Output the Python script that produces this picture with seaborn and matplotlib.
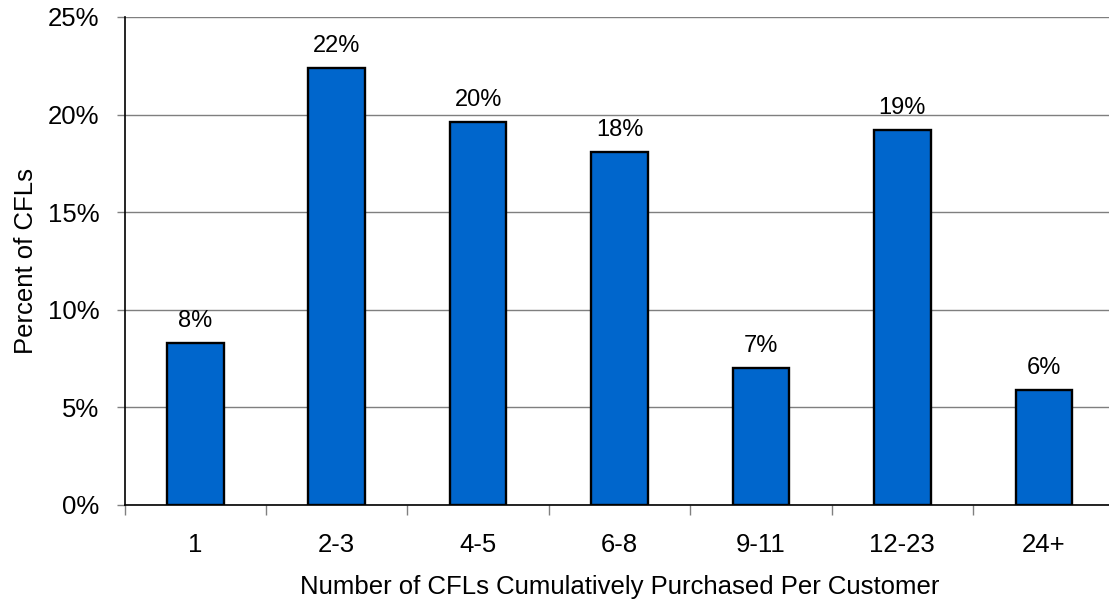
import matplotlib
matplotlib.use("Agg")
import matplotlib.pyplot as plt
import seaborn as sns
import pandas as pd
from matplotlib.ticker import FuncFormatter, FixedLocator

# Share of CFLs by how many bulbs each customer bought in total
categories = ["1", "2-3", "4-5", "6-8", "9-11", "12-23", "24+"]
percent_cfls = [8.3, 22.4, 19.6, 18.1, 7.0, 19.2, 5.9]

df = pd.DataFrame({"bucket": categories, "pct": percent_cfls})

sns.set_theme(style="white")
plt.rcParams["font.family"] = ["Liberation Sans", "DejaVu Sans"]

W, H = 1109, 604
fig = plt.figure(figsize=(W / 100, H / 100), dpi=100)
# plot area runs slightly past the right edge of the canvas
ax = fig.add_axes([124.5 / W, 1 - 505 / H, 990 / W, (505 - 17) / H])

sns.barplot(data=df, x="bucket", y="pct", order=categories, color="#0066CC",
            edgecolor="black", linewidth=1.7, width=0.40, saturation=1, ax=ax)

ax.set_xlim(-0.5, len(categories) - 0.5)
ax.set_ylim(0, 25)
ax.set_yticks([0, 5, 10, 15, 20, 25])
ax.yaxis.set_major_formatter(FuncFormatter(lambda v, _: f"{v:.0f}%"))
ax.yaxis.grid(True, color="#7f7f7f", linewidth=1.0)
ax.set_axisbelow(True)

for side in ("top", "right"):
    ax.spines[side].set_visible(False)
for side in ("left", "bottom"):
    ax.spines[side].set_color("black")
    ax.spines[side].set_linewidth(1.2)

# category boundaries marked with small ticks below the axis
ax.xaxis.set_minor_locator(FixedLocator([i - 0.5 for i in range(len(categories) + 1)]))
ax.tick_params(axis="x", which="major", length=0, pad=20, labelsize=18.5, colors="black")
ax.tick_params(axis="x", which="minor", bottom=True, length=7, width=1, color="#808080")
ax.tick_params(axis="y", which="major", left=True, length=6, width=1, color="#808080",
               pad=12, labelsize=18.5, labelcolor="black")

ax.set_xlabel("Number of CFLs Cumulatively Purchased Per Customer", fontsize=18.5,
              labelpad=13, color="black")
ax.set_ylabel("Percent of CFLs", fontsize=18.5, labelpad=7, color="black")

ax.bar_label(ax.containers[0], labels=[f"{v:.0f}%" for v in percent_cfls],
             padding=8, fontsize=17, color="black")

fig.savefig("out.png", dpi=100, facecolor="white")
